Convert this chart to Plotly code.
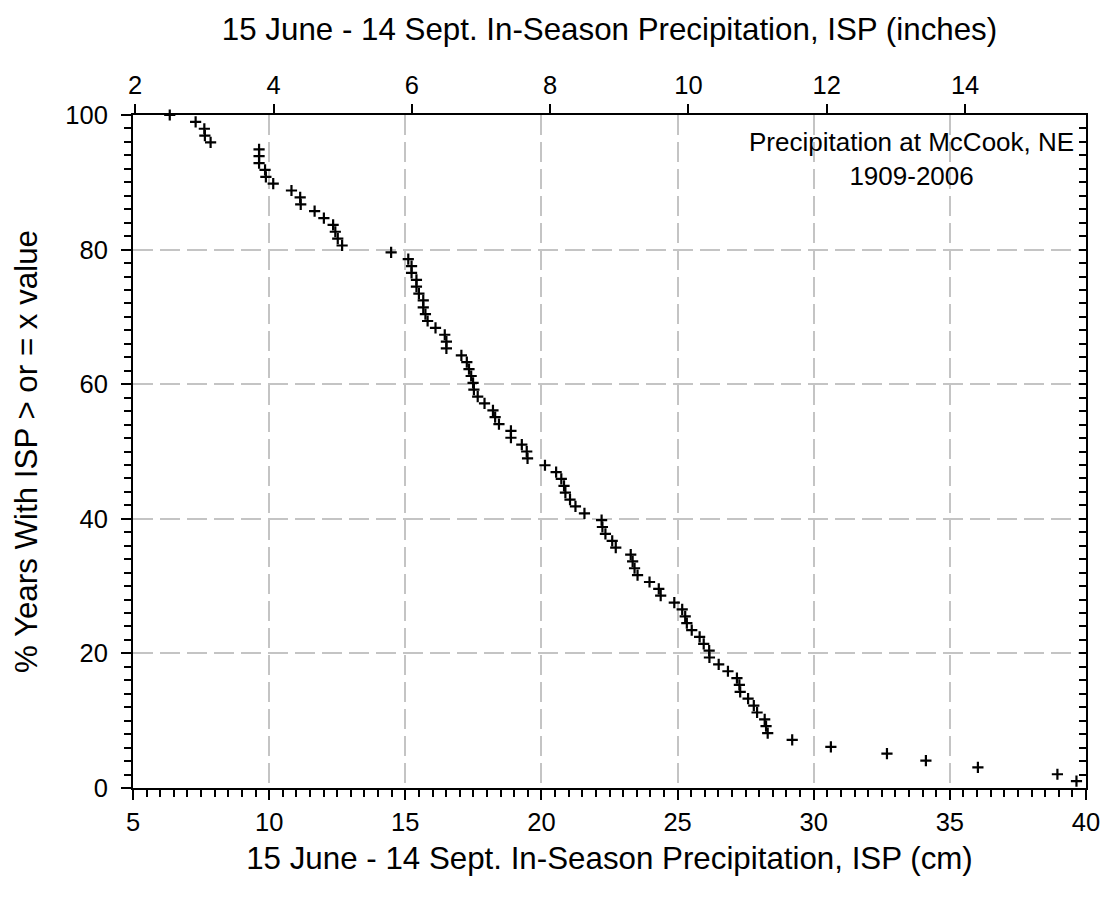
import plotly.graph_objects as go

# Data
isp_cm = [6.35, 7.30, 7.62, 7.64, 7.85, 9.63, 9.63, 9.63, 9.85, 9.88,
          10.15, 10.82, 11.14, 11.16, 11.67, 12.01, 12.35, 12.43, 12.52, 12.68,
          14.48, 15.11, 15.23, 15.23, 15.41, 15.41, 15.50, 15.66, 15.66, 15.74,
          15.82, 16.11, 16.45, 16.51, 16.51, 17.06, 17.26, 17.34, 17.42, 17.49,
          17.52, 17.66, 17.91, 18.22, 18.30, 18.44, 18.88, 18.88, 19.28, 19.46,
          19.49, 20.13, 20.54, 20.73, 20.83, 20.88, 21.05, 21.25, 21.58, 22.21,
          22.24, 22.35, 22.60, 22.73, 23.28, 23.35, 23.42, 23.53, 23.97, 24.31,
          24.38, 24.88, 25.17, 25.28, 25.34, 25.52, 25.81, 25.96, 26.16, 26.17,
          26.51, 26.85, 27.18, 27.27, 27.30, 27.59, 27.80, 27.92, 28.20, 28.25,
          28.31, 29.21, 30.63, 32.69, 34.12, 36.03, 38.95, 39.65]

pct_years = [100.00, 98.98, 97.96, 96.94, 95.92, 94.90, 93.88, 92.86, 91.84, 90.82,
             89.80, 88.78, 87.76, 86.73, 85.71, 84.69, 83.67, 82.65, 81.63, 80.61,
             79.59, 78.57, 77.55, 76.53, 75.51, 74.49, 73.47, 72.45, 71.43, 70.41,
             69.39, 68.37, 67.35, 66.33, 65.31, 64.29, 63.27, 62.24, 61.22, 60.20,
             59.18, 58.16, 57.14, 56.12, 55.10, 54.08, 53.06, 52.04, 51.02, 50.00,
             48.98, 47.96, 46.94, 45.92, 44.90, 43.88, 42.86, 41.84, 40.82, 39.80,
             38.78, 37.76, 36.73, 35.71, 34.69, 33.67, 32.65, 31.63, 30.61, 29.59,
             28.57, 27.55, 26.53, 25.51, 24.49, 23.47, 22.45, 21.43, 20.41, 19.39,
             18.37, 17.35, 16.33, 15.31, 14.29, 13.27, 12.24, 11.22, 10.20, 9.18,
             8.16, 7.14, 6.12, 5.10, 4.08, 3.06, 2.04, 1.02]

cm_ticks = [5, 10, 15, 20, 25, 30, 35, 40]
inch_ticks = [2, 4, 6, 8, 10, 12, 14]
pct_ticks = [0, 20, 40, 60, 80, 100]

CM_RANGE = [5, 40]
INCH_RANGE = [5 / 2.54, 40 / 2.54]
PCT_RANGE = [0, 100]

FONT = "Liberation Sans, Arial, sans-serif"
GRID = "#c4c4c4"
DASH = "20px,7px"
TICK_SIZE = 25.5
TITLE_SIZE = 31.3

fig = go.Figure()
fig.add_trace(go.Scatter(
    x=isp_cm, y=pct_years, mode="markers",
    marker=dict(symbol="cross-thin", size=8, color="black",
                line=dict(width=2.2, color="black")),
    cliponaxis=False, showlegend=False, hoverinfo="x+y"))
# empty trace to anchor the secondary (top / right) axes
fig.add_trace(go.Scatter(x=[], y=[], xaxis="x2", yaxis="y2",
                         showlegend=False, hoverinfo="skip"))

fig.update_layout(
    width=1112, height=901,
    margin=dict(l=133, r=19, t=115, b=113, pad=0),
    paper_bgcolor="white", plot_bgcolor="white",
    font=dict(family=FONT, size=TICK_SIZE, color="black"),
    xaxis=dict(
        range=CM_RANGE, tickvals=cm_ticks, ticks="outside", ticklen=10,
        tickwidth=1.5, tickcolor="black", showline=True, linecolor="black",
        linewidth=2, showgrid=True, gridcolor=GRID, gridwidth=2, griddash=DASH,
        zeroline=False, tickfont=dict(size=TICK_SIZE),
        minor=dict(dtick=0.5, tick0=5, ticks="outside", ticklen=7,
                   tickwidth=1.5, tickcolor="black", showgrid=False),
        title=dict(text="15 June - 14 Sept. In-Season Precipitation, ISP (cm)",
                   font=dict(size=TITLE_SIZE), standoff=12),
    ),
    xaxis2=dict(
        overlaying="x", side="top", anchor="y", range=INCH_RANGE,
        tickvals=inch_ticks, ticks="outside", ticklen=9, tickwidth=1.5,
        tickcolor="black", showline=True, linecolor="black", linewidth=2,
        showgrid=False, zeroline=False, tickfont=dict(size=TICK_SIZE),
        title=dict(text="15 June - 14 Sept. In-Season Precipitation, ISP (inches)",
                   font=dict(size=TITLE_SIZE), standoff=21),
    ),
    yaxis=dict(
        range=PCT_RANGE, tickvals=pct_ticks, ticks="outside", ticklen=10,
        tickwidth=1.5, tickcolor="black", showline=True, linecolor="black",
        linewidth=2, showgrid=True, gridcolor=GRID, gridwidth=2, griddash=DASH,
        zeroline=False, tickfont=dict(size=TICK_SIZE), ticklabelstandoff=8,
        minor=dict(dtick=2, tick0=0, ticks="outside", ticklen=7,
                   tickwidth=1.5, tickcolor="black", showgrid=False),
        title=dict(text="% Years With ISP > or = x value",
                   font=dict(size=TITLE_SIZE), standoff=18),
    ),
    yaxis2=dict(
        overlaying="y", side="right", anchor="x", range=PCT_RANGE,
        showticklabels=False, ticks="inside", ticklen=7, tickwidth=1.5,
        tickcolor="black", dtick=2, tick0=0, showline=True, linecolor="black",
        linewidth=2, showgrid=False, zeroline=False,
    ),
    annotations=[dict(
        text="Precipitation at McCook, NE<br>1909-2006",
        xref="x", yref="y", x=33.6, y=93.4, xanchor="center", yanchor="middle",
        showarrow=False, align="center", font=dict(size=26, family=FONT),
    )],
)

fig.write_html("out.html",
               config={"displayModeBar": False},
               post_script="document.body.style.margin='0';document.body.style.padding='0';")
